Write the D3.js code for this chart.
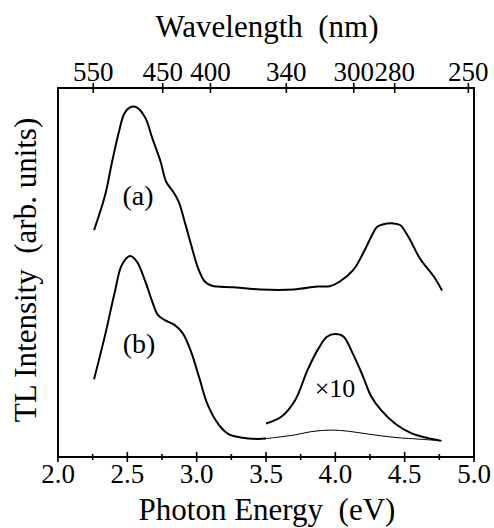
<!DOCTYPE html>
<html><head><meta charset="utf-8">
<script src="https://cdn.jsdelivr.net/npm/d3@7"></script>
<style>body{margin:0;background:#fff}svg{display:block}</style>
</head><body>
<svg id="c" width="494" height="528"></svg>
<script>
// Photon energy (eV) and TL intensity (arb. units)
const energyA = [2.26,2.34,2.39,2.44,2.48,2.53,2.57,2.63,2.68,2.74,2.78,2.83,2.87,2.92,2.96,3.01,3.06,3.11,3.26,3.46,3.70,3.87,3.96,4.03,4.13,4.20,4.27,4.30,4.34,4.42,4.47,4.50,4.54,4.61,4.71,4.77];
const intensityA = [61.5,71.0,80.0,88.2,93.2,94.9,94.7,91.9,86.4,80.0,74.6,71.9,69.2,62.9,57.5,51.2,47.5,46.4,46.0,45.4,45.4,46.2,46.3,47.5,50.7,55.2,60.5,62.3,63.0,63.3,62.8,61.3,58.8,53.8,48.9,45.1];
const energyB = [2.26,2.34,2.41,2.46,2.52,2.57,2.63,2.68,2.72,2.77,2.84,2.90,2.96,3.02,3.08,3.16,3.23,3.33,3.44,3.50];
const intensityB = [21.1,33.1,44.8,52.0,54.5,52.9,47.5,42.1,38.5,37.1,35.8,33.5,28.5,21.3,14.1,8.7,6.2,5.2,4.9,5.0];
const energyBtail = [3.50,3.57,3.71,3.83,3.97,4.09,4.24,4.43,4.62,4.77];
const intensityBtail = [5.0,5.3,6.0,6.9,7.3,7.0,6.2,5.3,4.8,4.4];
const energyX10 = [3.50,3.61,3.71,3.80,3.88,3.94,4.00,4.06,4.12,4.19,4.26,4.33,4.43,4.55,4.65,4.76];
const intensityX10 = [9.1,10.9,15.4,23.6,29.5,32.6,33.3,32.6,28.5,22.7,16.3,12.7,9.1,6.4,5.3,4.4];
const energyTicks = [2.0,2.5,3.0,3.5,4.0,4.5,5.0];
const energyMinor = [2.25,2.75,3.25,3.75,4.25,4.75];
const wavelengthTicks = [550,450,400,340,300,280,250];

const FONT = "serif";
const svg = d3.select("#c");
const L=58, R=474, T=88, B=457;
const x = d3.scaleLinear().domain([2,5]).range([L,R]);
const y = d3.scaleLinear().domain([0,100]).range([B,T]);
const hc = 1239.84;

function addText(parent, tx, ty, size, str, rot){
  const t = parent.append("text").attr("x",tx).attr("y",ty)
    .attr("text-anchor","middle").attr("font-family",FONT).attr("font-size",size)
    .attr("fill","#000").style("white-space","pre").text(str);
  if (rot) t.attr("transform",`rotate(${rot},${tx},${ty})`);
  return t;
}

// frame
svg.append("rect").attr("x",L).attr("y",T).attr("width",R-L).attr("height",B-T)
  .attr("fill","none").attr("stroke","#000").attr("stroke-width",2);

// bottom ticks
svg.append("g").selectAll("line").data(energyTicks).join("line")
  .attr("x1",d=>x(d)).attr("x2",d=>x(d)).attr("y1",B-5).attr("y2",B+5)
  .attr("stroke","#000").attr("stroke-width",1.6);
svg.append("g").selectAll("line").data(energyMinor).join("line")
  .attr("x1",d=>x(d)).attr("x2",d=>x(d)).attr("y1",B-3).attr("y2",B+3)
  .attr("stroke","#000").attr("stroke-width",1.6);
const gb = svg.append("g");
energyTicks.forEach(d=>addText(gb, x(d), 483, 27, d.toFixed(1)));

// top ticks (wavelength)
svg.append("g").selectAll("line").data(wavelengthTicks).join("line")
  .attr("x1",d=>x(hc/d)).attr("x2",d=>x(hc/d)).attr("y1",T-5).attr("y2",T+5)
  .attr("stroke","#000").attr("stroke-width",1.6);
const gt = svg.append("g");
wavelengthTicks.forEach(d=>addText(gt, x(hc/d), 81, 27, String(d)));

// titles
addText(svg, 267, 37, 31, "Wavelength  (nm)");
addText(svg, 267, 520, 31, "Photon Energy  (eV)");
addText(svg, 36, 270, 31, "TL Intensity  (arb. units)", -90);

const line = d3.line().x(d=>x(d[0])).y(d=>y(d[1])).curve(d3.curveCatmullRom.alpha(0.5));
function draw(es, vs, w){
  svg.append("path").datum(es.map((e,i)=>[e,vs[i]])).attr("d",line)
    .attr("fill","none").attr("stroke","#000").attr("stroke-width",w).attr("stroke-linejoin","round");
}
draw(energyA, intensityA, 2);
draw(energyB, intensityB, 2);
draw(energyBtail, intensityBtail, 1);
draw(energyX10, intensityX10, 2);

addText(svg, 138, 205, 28, "(a)");
addText(svg, 139, 353, 28, "(b)");
addText(svg, 335, 397, 26, "×10");
</script>
</body></html>
